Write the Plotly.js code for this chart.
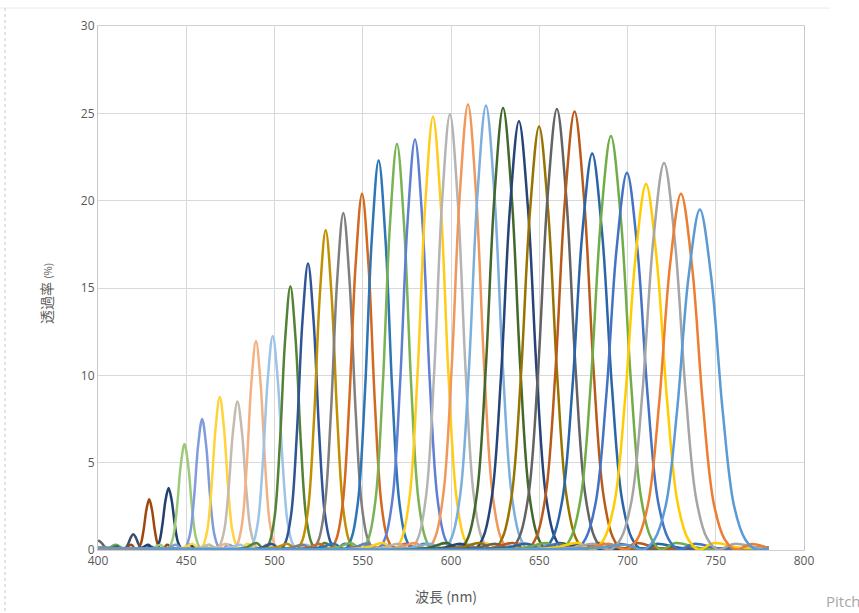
<!DOCTYPE html>
<html>
<head>
<meta charset="utf-8">
<script src="https://cdn.plot.ly/plotly-3.0.1.min.js"></script>
<style>
  html, body { margin: 0; padding: 0; background: #ffffff; }
  #chart { width: 859px; height: 613px; }
</style>
</head>
<body>
<div id="chart"></div>
<script>
// Filter centre wavelengths (nm) read from the peaks
const centers = [400, 410, 420, 429, 440, 449, 459, 469, 479, 489.5, 499, 509, 519, 529, 539, 549.6,
  559, 569.4, 579.6, 589.8, 599.4, 609.6, 619.8, 629.5, 638.5, 649.9, 660, 670, 680, 690.6, 699.7,
  710.5, 720.7, 730.3, 741];

// Sample spacing (nm) of each curve's profile points
const steps = [1.7, 1.7, 1.4, 1.55, 1.75, 2.1, 2.25, 2.35, 2.5, 2.6, 2.8, 2.95, 3.15, 3.3, 3.5, 3.65,
  3.85, 4.0, 4.2, 4.35, 4.45, 4.6, 4.8, 4.9, 5.05, 5.15, 5.3, 5.4, 5.6, 5.65, 5.85,
  5.95, 6.1, 6.2, 6.45];

// Transmittance (%) at the peak and at 1..4 steps away from it
const profiles = [
  [0.55, 0.44, 0.23, 0.07, 0.02],
  [0.30, 0.24, 0.12, 0.04, 0.01],
  [0.90, 0.72, 0.37, 0.12, 0.03],
  [2.90, 2.32, 1.19, 0.38, 0.09],
  [3.55, 2.84, 1.46, 0.46, 0.11],
  [6.07, 4.86, 2.49, 0.79, 0.18],
  [7.50, 6.00, 3.08, 0.98, 0.23],
  [8.76, 7.01, 3.59, 1.14, 0.26],
  [8.50, 6.80, 3.49, 1.11, 0.26],
  [11.96, 9.57, 4.90, 1.55, 0.36],
  [12.25, 9.80, 5.02, 1.59, 0.37],
  [15.10, 12.08, 6.19, 1.96, 0.45],
  [16.40, 13.12, 6.72, 2.13, 0.49],
  [18.30, 14.64, 7.50, 2.38, 0.55],
  [19.30, 15.44, 7.91, 2.51, 0.58],
  [20.40, 16.32, 8.36, 2.65, 0.61],
  [22.30, 17.84, 9.14, 2.90, 0.67],
  [23.25, 18.60, 9.53, 3.02, 0.70],
  [23.50, 18.80, 9.64, 3.06, 0.71],
  [24.80, 19.84, 10.17, 3.22, 0.74],
  [24.95, 19.96, 10.23, 3.24, 0.75],
  [25.50, 20.40, 10.46, 3.32, 0.77],
  [25.45, 20.36, 10.43, 3.31, 0.76],
  [25.30, 20.24, 10.37, 3.29, 0.76],
  [24.55, 19.64, 10.07, 3.19, 0.74],
  [24.25, 19.40, 9.94, 3.15, 0.73],
  [25.25, 20.20, 10.35, 3.28, 0.76],
  [25.10, 20.08, 10.29, 3.26, 0.75],
  [22.70, 18.16, 9.31, 2.95, 0.68],
  [23.70, 18.96, 9.72, 3.08, 0.71],
  [21.60, 17.28, 8.86, 2.81, 0.65],
  [20.95, 16.76, 8.59, 2.72, 0.63],
  [22.15, 17.72, 9.08, 2.88, 0.66],
  [20.40, 16.32, 8.36, 2.65, 0.61],
  [19.50, 15.60, 8.00, 2.54, 0.59]
];

// Small side-lobe ripple height (%) near each curve's base
const ripples = [0.15, 0.1, 0.2, 0.3, 0.3, 0.3, 0.3, 0.35, 0.3, 0.35, 0.3, 0.4, 0.35, 0.35, 0.3, 0.35,
  0.35, 0.4, 0.35, 0.4, 0.35, 0.4, 0.35, 0.4, 0.35, 0.4, 0.35, 0.4, 0.35, 0.4, 0.35,
  0.4, 0.35, 0.35, 0.3];

const baseline = [0.1, 0.08, 0.12, 0.1, 0.12, 0.08, 0.1, 0.12, 0.08, 0.1, 0.12, 0.1, 0.08, 0.12, 0.1, 0.08,
  0.12, 0.1, 0.08, 0.12, 0.1, 0.08, 0.12, 0.1, 0.08, 0.12, 0.1, 0.08, 0.12, 0.1, 0.08,
  0.12, 0.1, 0.08, 0.12];

const colors = ['#636363', '#70AD47', '#3B4E6B', '#9E480E', '#223F6E', '#9DC97A', '#7F9CDB', '#FFD43B',
  '#C4BAB0', '#F4B183', '#9DC3E6', '#548235', '#2F5597', '#BF9000', '#7F7F7F', '#D2691E',
  '#2E75B6', '#7AB356', '#5F7FD3', '#FFCC1A', '#B4B4B4', '#F1975A', '#7CAFDD', '#43682B',
  '#264478', '#997300', '#636363', '#B95A1A', '#2A65A8', '#70AD47', '#4472C4', '#FFCC00',
  '#A5A5A5', '#ED7D31', '#5B9BD5'];

const xTicks = [400, 450, 500, 550, 600, 650, 700, 750, 800];
const yTicks = [0, 5, 10, 15, 20, 25, 30];
const xStart = 400, xEnd = 780;

const traces = centers.map(function (c, i) {
  const s = steps[i], p = profiles[i];
  const pts = [];
  pts.push([xStart, baseline[i]]);
  pts.push([c - 9 * s, baseline[i]]);
  pts.push([c - 6.5 * s, ripples[i]]);
  pts.push([c - 5 * s, 0.02]);
  for (let k = 4; k >= 1; k--) pts.push([c - k * s, p[k]]);
  pts.push([c, p[0]]);
  for (let k = 1; k <= 4; k++) pts.push([c + k * s, p[k]]);
  pts.push([c + 5 * s, 0.02]);
  pts.push([c + 6.5 * s, ripples[i]]);
  pts.push([c + 9 * s, baseline[i]]);
  pts.push([xEnd, baseline[i]]);
  let kept = pts.filter(function (q) { return q[0] >= xStart && q[0] <= xEnd; });
  kept.sort(function (a, b) { return a[0] - b[0]; });
  const clean = [];
  kept.forEach(function (q) {
    if (clean.length && Math.abs(clean[clean.length - 1][0] - q[0]) < 0.3) {
      clean[clean.length - 1] = q[1] > clean[clean.length - 1][1] ? q : clean[clean.length - 1];
    } else clean.push(q);
  });
  return {
    type: 'scatter', mode: 'lines',
    x: clean.map(function (q) { return q[0]; }),
    y: clean.map(function (q) { return q[1]; }),
    line: { color: colors[i], width: 2.5, shape: 'spline', smoothing: 1 },
    hoverinfo: 'skip', showlegend: false
  };
});

const W = 859, H = 613, L = 98, R = 55, T = 26, B = 63;
const pw = W - L - R, ph = H - T - B;
function px(xp) { return (xp - L) / pw; }
function py(yp) { return (H - B - yp) / ph; }

const layout = {
  width: W, height: H,
  margin: { l: L, r: R, t: T, b: B, pad: 0 },
  paper_bgcolor: '#ffffff', plot_bgcolor: '#ffffff',
  font: { family: 'Open Sans, Noto Sans, sans-serif', color: '#595959', size: 12 },
  showlegend: false,
  xaxis: {
    range: [400, 800], tickvals: xTicks, ticktext: xTicks.map(String),
    showgrid: true, gridcolor: '#D9D9D9', gridwidth: 1,
    showline: true, linecolor: '#D0D0D0', linewidth: 1, mirror: true,
    zeroline: false, ticks: '', tickfont: { size: 12, color: '#595959' }
  },
  yaxis: {
    range: [0, 30], tickvals: yTicks, ticktext: yTicks.map(String),
    showgrid: true, gridcolor: '#D9D9D9', gridwidth: 1,
    showline: true, linecolor: '#C8C8C8', linewidth: 1, mirror: true,
    zeroline: false, ticks: '', tickfont: { size: 12, color: '#595959' }
  },
  annotations: [
    { xref: 'paper', yref: 'paper', x: px(446), y: py(596), text: '波長 (nm)', showarrow: false,
      xanchor: 'center', yanchor: 'middle',
      font: { family: 'Noto Sans CJK JP, Noto Sans, sans-serif', size: 14, color: '#595959' } },
    { xref: 'paper', yref: 'paper', x: px(46), y: py(294), textangle: -90,
      text: '透過率 <span style="font-size:10px">(%)</span>', showarrow: false,
      xanchor: 'center', yanchor: 'middle',
      font: { family: 'Noto Sans CJK JP, Noto Sans, sans-serif', size: 14, color: '#595959' } },
    { xref: 'paper', yref: 'paper', x: px(824), y: py(601), text: 'Pitch', showarrow: false,
      xanchor: 'left', yanchor: 'middle',
      font: { family: 'Open Sans, sans-serif', size: 15, color: '#A6A6A6' } }
  ],
  shapes: [
    { type: 'line', xref: 'paper', yref: 'paper', x0: px(0), x1: px(830), y0: py(8), y1: py(8),
      line: { color: '#EAEAEA', width: 1 } },
    { type: 'line', xref: 'paper', yref: 'paper', x0: px(5), x1: px(5), y0: py(8), y1: py(613),
      line: { color: '#C8C8C8', width: 1, dash: 'dot' } }
  ]
};

Plotly.newPlot('chart', traces, layout, { displayModeBar: false, staticPlot: true });
</script>
</body>
</html>
